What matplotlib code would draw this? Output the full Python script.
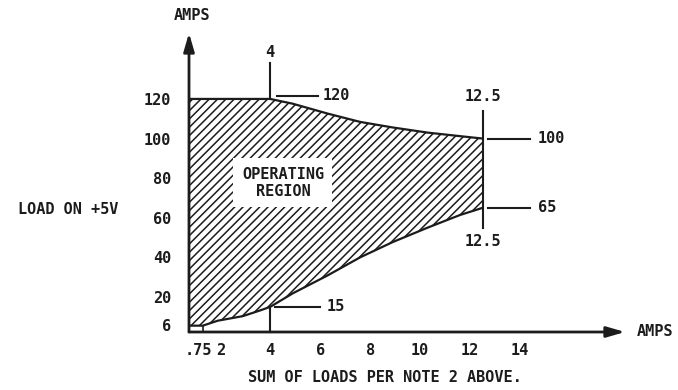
import numpy as np
import matplotlib
matplotlib.use("Agg")
import matplotlib.pyplot as plt
from matplotlib.transforms import ScaledTranslation

# ---------------------------------------------------------------------------- #

# boundary of the operating region (x = sum of loads, amps)
x_pts = [0.75, 1.3, 1.9, 2.9, 3.6, 4.0, 4.9, 6.3, 7.6, 8.9, 10.3, 11.6, 12.5]
upper = [120, 120, 120, 120, 120, 120, 117.6, 112.6, 108.4, 105.6, 103.0, 101.2, 100]
lower = [5.5, 5.5, 8.0, 10.3, 13.2, 15, 21.8, 30.9, 40.0, 47.7, 55.0, 61.4, 65]

# callout values
knee_x = 4
knee_top = 120
knee_bot = 15
end_x = 12.5
end_top = 100
end_bot = 65

xtick_pos = [0.75, 2, 4, 6, 8, 10, 12, 14]
xtick_lab = [".75", "2", "4", "6", "8", "10", "12", "14"]
ytick_pos = [6, 20, 40, 60, 80, 100, 120]
ytick_lab = ["6", "20", "40", "60", "80", "100", "120"]

# ---------------------------------------------------------------------------- #

INK = "#1c1c1c"
plt.rcParams['font.family'] = 'DejaVu Sans Mono'
plt.rcParams['font.weight'] = 'bold'
plt.rcParams['font.size'] = 11
plt.rcParams['hatch.linewidth'] = 1.1
plt.rcParams['hatch.color'] = INK

fig = plt.figure(figsize=(6.78, 3.90), dpi=100)
fig.patch.set_facecolor('white')
ax = fig.add_axes([189 / 678, 58 / 390, 436 / 678, 299 / 390])

x0, x1 = 0.75, 18.2
y0, y1 = 2.3, 153.3
ax.set_xlim(x0, x1)
ax.set_ylim(y0, y1)
for s in ax.spines.values():
    s.set_visible(False)

# axes with arrow heads
arrow = dict(arrowstyle='-|>,head_length=0.55,head_width=0.16', color=INK, lw=2.0,
             mutation_scale=20, shrinkA=0, shrinkB=0)
ax.annotate("", xy=(x0, y1), xytext=(x0, y0), arrowprops=arrow, annotation_clip=False)
ax.annotate("", xy=(x1, y0), xytext=(x0, y0), arrowprops=arrow, annotation_clip=False)

# hatched operating region
ax.fill_between(x_pts, lower, upper, facecolor='none', edgecolor=INK, hatch='////', linewidth=0)
ax.plot(x_pts, upper, color=INK, lw=1.6, solid_capstyle='round')
ax.plot(x_pts, lower, color=INK, lw=1.6, solid_capstyle='round')
ax.plot([x_pts[1], x_pts[1]], [y0, lower[1]], color=INK, lw=1.2)

ax.text(4.51, 77.6, "OPERATING\nREGION", ha='center', va='center', color=INK,
        bbox=dict(facecolor='white', edgecolor='none', pad=6))

# callouts
lk = dict(color=INK, lw=1.5, clip_on=False)
ax.plot([knee_x, knee_x], [knee_top + 1, knee_top + 18], **lk)
ax.text(knee_x, knee_top + 23.7, str(knee_x), ha='center', va='center', color=INK)
ax.plot([knee_x + 0.28, knee_x + 1.92], [knee_top + 1.5, knee_top + 1.5], **lk)
ax.text(knee_x + 2.08, knee_top + 1.5, str(knee_top), ha='left', va='center', color=INK)

ax.plot([knee_x, knee_x], [y0, knee_bot], **lk)
ax.plot([knee_x + 0.2, knee_x + 2.0], [knee_bot, knee_bot], **lk)
ax.text(knee_x + 2.24, knee_bot, str(knee_bot), ha='left', va='center', color=INK)

ax.plot([end_x, end_x], [end_bot - 10, end_top + 14], **lk)
ax.text(end_x, end_top + 21, str(end_x), ha='center', va='center', color=INK)
ax.text(end_x, end_bot - 17, str(end_x), ha='center', va='center', color=INK)
ax.plot([end_x + 0.22, end_x + 1.9], [end_top, end_top], **lk)
ax.text(end_x + 2.22, end_top, str(end_top), ha='left', va='center', color=INK)
ax.plot([end_x + 0.22, end_x + 1.9], [end_bot, end_bot], **lk)
ax.text(end_x + 2.22, end_bot, str(end_bot), ha='left', va='center', color=INK)

# ticks
ax.set_xticks(xtick_pos)
ax.set_xticklabels(xtick_lab)
ax.set_yticks(ytick_pos)
ax.set_yticklabels(ytick_lab)
ax.tick_params(axis='x', length=0, pad=8, colors=INK)
ax.tick_params(axis='y', length=0, pad=13, colors=INK)
lab = ax.get_xticklabels()[0]
lab.set_transform(lab.get_transform() + ScaledTranslation(0.09, 0, fig.dpi_scale_trans))

# axis titles
fig.text(192 / 678, 1 - 16 / 390, "AMPS", ha='center', va='center', color=INK)
fig.text(637 / 678, 1 - 331 / 390, "AMPS", ha='left', va='center', color=INK)
fig.text(18 / 678, 1 - 210 / 390, "LOAD ON +5V", ha='left', va='center', color=INK)
fig.text(385 / 678, 1 - 377 / 390, "SUM OF LOADS PER NOTE 2 ABOVE.", ha='center', va='center',
         color=INK)

plt.savefig("out.png", dpi=100)
